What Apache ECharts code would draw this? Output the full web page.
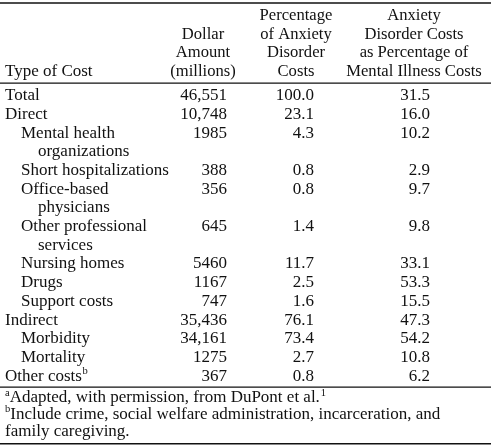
<!DOCTYPE html>
<html>
<head>
<meta charset="utf-8">
<script src="https://cdn.jsdelivr.net/npm/echarts@6/dist/echarts.min.js"></script>
<style>html,body{margin:0;padding:0;background:#fff}#c{width:491px;height:447px}</style>
</head>
<body>
<div id="c"></div>
<script>
// ---- data ----
var categories = ['Total', 'Direct', 'Mental health\norganizations', 'Short hospitalizations',
  'Office-based\nphysicians', 'Other professional\nservices', 'Nursing homes', 'Drugs',
  'Support costs', 'Indirect', 'Morbidity', 'Mortality', 'Other costs'];
var levels = [0, 0, 1, 1, 1, 1, 1, 1, 1, 0, 1, 1, 0];
var categoryNotes = ['', '', '', '', '', '', '', '', '', '', '', '', 'b'];
var dollarAmount = [46551, 10748, 1985, 388, 356, 645, 5460, 1167, 747, 35436, 34161, 1275, 367];
var pctOfAnxiety = [100.0, 23.1, 4.3, 0.8, 0.8, 1.4, 11.7, 2.5, 1.6, 76.1, 73.4, 2.7, 0.8];
var pctOfMental = [31.5, 16.0, 10.2, 2.9, 9.7, 9.8, 33.1, 53.3, 15.5, 47.3, 54.2, 10.8, 6.2];
var headers = ['Type of Cost', 'Dollar\nAmount\n(millions)', 'Percentage\nof Anxiety\nDisorder\nCosts',
  'Anxiety\nDisorder Costs\nas Percentage of\nMental Illness Costs'];
var footnotes = [
  {mark: 'a', text: 'Adapted, with permission, from DuPont et al.', tail: '1'},
  {mark: 'b', text: 'Include crime, social welfare administration, incarceration, and', tail: ''},
  {mark: '', text: 'family caregiving.', tail: ''}
];

// ---- layout ----
var FONT_FAMILY = '"Liberation Serif","Times New Roman",serif';
var FONT = '17px ' + FONT_FAMILY;
var HEAD_FONT = '16.6px ' + FONT_FAMILY;
var FOOT_FONT = '17px ' + FONT_FAMILY;
var SUP_FONT = '10.5px ' + FONT_FAMILY;
var COLOR = '#111';
var ROW_TOP = 96, LINE_H = 18.67;
var HEAD_BOTTOM = 72, HEAD_LINE_H = 18.9;
var colX = {label: 5, indent: 21, wrapIndent: 38, dollarRight: 227, pctRight: 314, mentalRight: 430};
var headCenter = [null, 203, 296, 414];
var FOOT_TOP = 398, FOOT_LINE_H = 16.7;

var ctx = document.createElement('canvas').getContext('2d');
function tw(t, f) { ctx.font = f; return ctx.measureText(t).width; }

function fmtDollar(v) {
  return v >= 10000 ? v.toLocaleString('en-US') : String(v);
}

// line index of each row
var rowLine = [], acc = 0;
categories.forEach(function (c) { rowLine.push(acc); acc += c.split('\n').length; });

function txt(text, x, y, align, font) {
  return {type: 'text', style: {text: text, x: x, y: y, textAlign: align, textVerticalAlign: 'middle', font: font || FONT, fill: COLOR}};
}

var chart = echarts.init(document.getElementById('c'), null, {renderer: 'canvas'});
chart.setOption({
  animation: false,
  grid: {left: 0, right: 0, top: 0, bottom: 0},
  xAxis: {type: 'value', min: 0, max: 491, show: false},
  yAxis: {type: 'value', min: 0, max: 447, inverse: true, show: false},
  graphic: [
    {type: 'rect', shape: {x: 0, y: 2.2, width: 491, height: 1.6}, style: {fill: COLOR}},
    {type: 'rect', shape: {x: 0, y: 82.5, width: 491, height: 1.3}, style: {fill: COLOR}},
    {type: 'rect', shape: {x: 0, y: 386.5, width: 491, height: 1.3}, style: {fill: COLOR}},
    {type: 'rect', shape: {x: 0, y: 443, width: 491, height: 1.6}, style: {fill: COLOR}}
  ],
  series: [
    { // header
      type: 'custom', coordinateSystem: 'cartesian2d', silent: true,
      data: headers.map(function (h, i) { return [i]; }),
      renderItem: function (params, api) {
        var i = api.value(0);
        var lines = headers[i].split('\n');
        var children = [];
        lines.forEach(function (ln, k) {
          var yv = HEAD_BOTTOM - (lines.length - 1 - k) * HEAD_LINE_H;
          var p = api.coord([i === 0 ? colX.label : headCenter[i], yv]);
          children.push(txt(ln, p[0], p[1], i === 0 ? 'left' : 'center', i === 0 ? FONT : HEAD_FONT));
        });
        return {type: 'group', children: children};
      }
    },
    { // body rows
      type: 'custom', coordinateSystem: 'cartesian2d', silent: true,
      data: categories.map(function (c, i) { return [i, dollarAmount[i], pctOfAnxiety[i], pctOfMental[i]]; }),
      renderItem: function (params, api) {
        var i = api.value(0);
        var yv = ROW_TOP + rowLine[i] * LINE_H;
        var lines = categories[i].split('\n');
        var children = [];
        lines.forEach(function (ln, k) {
          var x = levels[i] === 0 ? colX.label : (k === 0 ? colX.indent : colX.wrapIndent);
          var p = api.coord([x, yv + k * LINE_H]);
          children.push(txt(ln, p[0], p[1], 'left'));
          if (k === lines.length - 1 && categoryNotes[i]) {
            children.push(txt(categoryNotes[i], p[0] + tw(ln, FONT) + 0.5, p[1] - 5, 'left', SUP_FONT));
          }
        });
        var pd = api.coord([colX.dollarRight, yv]);
        children.push(txt(fmtDollar(api.value(1)), pd[0], pd[1], 'right'));
        var pa = api.coord([colX.pctRight, yv]);
        children.push(txt(api.value(2).toFixed(1), pa[0], pa[1], 'right'));
        var pm = api.coord([colX.mentalRight, yv]);
        children.push(txt(api.value(3).toFixed(1), pm[0], pm[1], 'right'));
        return {type: 'group', children: children};
      }
    },
    { // footnotes
      type: 'custom', coordinateSystem: 'cartesian2d', silent: true,
      data: footnotes.map(function (f, i) { return [i]; }),
      renderItem: function (params, api) {
        var i = api.value(0);
        var f = footnotes[i];
        var p = api.coord([colX.label, FOOT_TOP + i * FOOT_LINE_H]);
        var children = [];
        var x = p[0];
        if (f.mark) {
          children.push(txt(f.mark, x, p[1] - 5, 'left', SUP_FONT));
          x += tw(f.mark, SUP_FONT);
        }
        children.push(txt(f.text, x, p[1], 'left', FOOT_FONT));
        if (f.tail) {
          children.push(txt(f.tail, x + tw(f.text, FOOT_FONT) + 1, p[1] - 5, 'left', SUP_FONT));
        }
        return {type: 'group', children: children};
      }
    }
  ]
});
</script>
</body>
</html>
